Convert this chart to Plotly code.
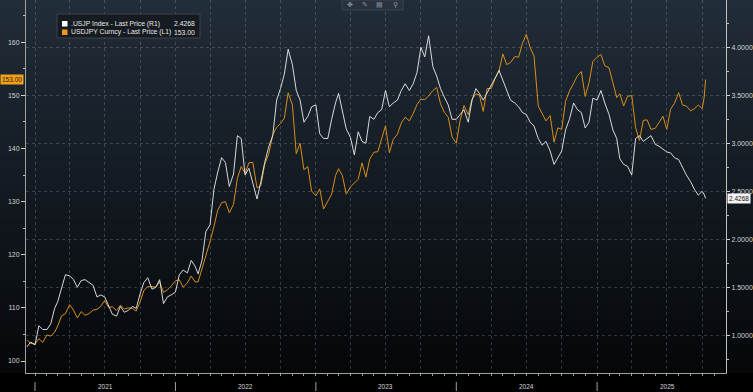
import plotly.graph_objects as go
import pandas as pd

# ---------------- data ----------------
years = [2021, 2022, 2023, 2024, 2025]
left_ticks = [100, 110, 120, 130, 140, 150, 160]
right_ticks = [1.0, 1.5, 2.0, 2.5, 3.0, 3.5, 4.0]

month_starts = pd.date_range("2021-01-01", "2025-09-01", freq="MS")
dates = ["2020-12-11", "2020-12-21"]
for m in month_starts:
    for d in (1, 11, 21):
        dates.append(f"{m.year}-{m.month:02d}-{d:02d}")
dates += ["2025-10-01", "2025-10-06", "2025-10-10"]

usdjpy_2020 = [104.0, 103.3]
usdjpy_2021 = [103.2, 104.2, 103.5, 104.9, 104.7, 105.4, 106.6, 108.5, 108.9,
               110.6, 109.6, 108.1, 109.3, 108.6, 108.9, 109.6, 109.7, 110.3,
               111.4, 110.1, 110.2, 109.5, 110.5, 109.8, 110.0, 109.9, 109.4,
               111.1, 113.3, 114.0, 114.0, 113.9, 114.9, 112.9, 113.4, 114.1]
usdjpy_2022 = [115.1, 115.3, 113.9, 114.7, 116.0, 114.9, 114.9, 117.3, 119.4,
               122.5, 125.3, 128.4, 129.8, 130.0, 127.9, 129.5, 134.4, 136.6,
               135.3, 137.3, 137.4, 132.6, 133.0, 137.0, 139.1, 142.6, 144.0,
               144.7, 145.7, 150.5, 148.2, 139.0, 141.0, 136.0, 136.6, 132.0]
usdjpy_2023 = [131.1, 132.4, 128.6, 130.1, 131.4, 134.9, 136.2, 134.9, 131.4,
               132.8, 133.6, 134.2, 137.3, 134.6, 138.0, 139.3, 139.4, 141.9,
               144.3, 139.2, 141.7, 142.7, 144.8, 145.9, 145.2, 146.6, 148.3,
               149.3, 149.2, 149.9, 150.9, 151.5, 148.4, 146.8, 145.9, 142.2]
usdjpy_2024 = [141.0, 145.3, 148.1, 146.4, 149.3, 150.3, 150.1, 147.0, 151.3,
               151.3, 153.2, 154.6, 157.8, 155.8, 156.2, 157.3, 157.2, 159.8,
               161.5, 159.0, 157.4, 148.0, 146.5, 145.2, 146.2, 141.2, 143.9,
               143.6, 148.9, 150.8, 152.3, 153.7, 154.5, 149.8, 152.4, 156.4]
usdjpy_2025 = [157.2, 157.7, 155.6, 155.2, 152.4, 149.6, 150.3, 148.0, 149.8,
               150.0, 144.0, 141.5, 145.3, 145.4, 143.6, 143.8, 144.9, 146.1,
               143.6, 147.4, 148.5, 150.5, 148.2, 148.0, 147.1, 147.5, 148.2,
               147.5, 149.5, 153.0]

usjp_2020 = [0.88, 0.93]
usjp_2021 = [0.90, 1.10, 1.06, 1.06, 1.12, 1.28, 1.35, 1.48, 1.63,
             1.62, 1.58, 1.50, 1.57, 1.58, 1.55, 1.52, 1.40, 1.42,
             1.40, 1.30, 1.22, 1.20, 1.30, 1.24, 1.26, 1.30, 1.28,
             1.43, 1.55, 1.60, 1.48, 1.50, 1.58, 1.33, 1.40, 1.42]
usjp_2022 = [1.45, 1.63, 1.68, 1.65, 1.78, 1.72, 1.64, 1.78, 2.08,
             2.15, 2.52, 2.70, 2.85, 2.80, 2.55, 2.68, 3.08, 3.05,
             2.67, 2.74, 2.60, 2.42, 2.60, 2.80, 2.97, 3.08, 3.45,
             3.57, 3.72, 3.98, 3.82, 3.55, 3.45, 3.22, 3.28, 3.38]
usjp_2023 = [3.40, 3.10, 3.05, 3.05, 3.25, 3.42, 3.52, 3.35, 3.15,
             3.06, 2.88, 3.12, 3.02, 3.00, 3.28, 3.25, 3.32, 3.35,
             3.55, 3.38, 3.42, 3.45, 3.55, 3.62, 3.55, 3.62, 3.74,
             4.00, 3.90, 4.12, 3.80, 3.70, 3.57, 3.48, 3.40, 3.25]
usjp_2024 = [3.25, 3.30, 3.35, 3.22, 3.45, 3.57, 3.52, 3.45, 3.52,
             3.60, 3.68, 3.76, 3.66, 3.55, 3.45, 3.42, 3.38, 3.32,
             3.30, 3.22, 3.18, 3.05, 2.98, 3.02, 2.92, 2.78, 2.85,
             2.92, 3.14, 3.25, 3.42, 3.35, 3.32, 3.16, 3.22, 3.47]
usjp_2025 = [3.45, 3.55, 3.42, 3.30, 3.14, 3.05, 2.84, 2.78, 2.76,
             2.67, 3.05, 3.08, 3.02, 3.05, 3.08, 2.99, 2.97, 2.94,
             2.91, 2.90, 2.85, 2.83, 2.75, 2.67, 2.60, 2.52, 2.46,
             2.50, 2.47, 2.4268]

usdjpy = usdjpy_2020 + usdjpy_2021 + usdjpy_2022 + usdjpy_2023 + usdjpy_2024 + usdjpy_2025
usjp = usjp_2020 + usjp_2021 + usjp_2022 + usjp_2023 + usjp_2024 + usjp_2025

# ---------------- layout geometry ----------------
W, H = 753, 392
ML, MR, MT, MB = 26, 27, 0, 19
PW, PH = W - ML - MR, H - MT - MB


def xp(px):
    return (px - ML) / PW


def yp(py):
    return 1 - (py - MT) / PH


FONT = "Liberation Sans, Arial, sans-serif"
TXT = "#d4d4d4"
AX = "#a0a0a0"
GRID = "rgba(185,195,205,0.24)"

fig = go.Figure()
fig.add_trace(go.Scatter(x=dates, y=usdjpy, yaxis="y", mode="lines",
                         line=dict(color="#d98d18", width=1.0),
                         hoverinfo="skip", name="USDJPY Curncy"))
fig.add_trace(go.Scatter(x=dates, y=usjp, yaxis="y2", mode="lines",
                         line=dict(color="#ececec", width=0.9),
                         hoverinfo="skip", name=".USJP Index"))

# background gradient bands
shapes = []
N = 80
top = (33, 45, 57)
mid = (19, 26, 33)
bot = (5, 7, 9)
for i in range(N):
    t = (i + 0.5) / N  # 0 bottom -> 1 top
    if t < 0.5:
        a, b, f = bot, mid, t / 0.5
    else:
        a, b, f = mid, top, (t - 0.5) / 0.5
    c = tuple(int(round(a[k] + (b[k] - a[k]) * f)) for k in range(3))
    shapes.append(dict(type="rect", xref="paper", yref="paper",
                       x0=xp(0) - 0.01, x1=xp(W) + 0.01,
                       y0=i / N, y1=(i + 1) / N + 0.002,
                       fillcolor=f"rgb{c}", line=dict(width=0), layer="below"))

# year separators
for yr in years:
    shapes.append(dict(type="line", xref="x", yref="paper",
                       x0=f"{yr}-01-01", x1=f"{yr}-01-01",
                       y0=yp(382), y1=yp(391),
                       line=dict(color=AX, width=1)))

# legend box
shapes.append(dict(type="rect", xref="paper", yref="paper",
                   x0=xp(57), x1=xp(200), y0=yp(38), y1=yp(14),
                   fillcolor="rgba(22,26,31,0.92)", line=dict(color="#3c434a", width=1)))
shapes.append(dict(type="rect", xref="paper", yref="paper",
                   x0=xp(62), x1=xp(67.5), y0=yp(26.5), y1=yp(21),
                   fillcolor="#ffffff", line=dict(width=0)))
shapes.append(dict(type="rect", xref="paper", yref="paper",
                   x0=xp(62), x1=xp(67.5), y0=yp(35), y1=yp(29.5),
                   fillcolor="#f39a12", line=dict(width=0)))

# toolbar
shapes.append(dict(type="rect", xref="paper", yref="paper",
                   x0=xp(342), x1=xp(403), y0=yp(10), y1=yp(0),
                   fillcolor="#28323c", line=dict(color="#3a4550", width=1)))

annotations = []
for yr in years:
    annotations.append(dict(x=f"{yr}-07-02", xref="x", y=yp(386.5), yref="paper",
                            text=str(yr), showarrow=False, xanchor="center", yanchor="middle",
                            font=dict(family=FONT, size=6.5, color=TXT)))

LEG = 6.8
annotations.append(dict(x=xp(69), y=yp(23.7), xref="paper", yref="paper",
                        text=".USJP Index - Last Price (R1)", showarrow=False,
                        xanchor="left", yanchor="middle",
                        font=dict(family=FONT, size=LEG, color="#e6e6e6")))
annotations.append(dict(x=xp(69), y=yp(32.3), xref="paper", yref="paper",
                        text="USDJPY Curncy - Last Price (L1)", showarrow=False,
                        xanchor="left", yanchor="middle",
                        font=dict(family=FONT, size=LEG, color="#e6e6e6")))
annotations.append(dict(x=xp(196.5), y=yp(23.7), xref="paper", yref="paper",
                        text=f"{usjp[-1]:.4f}", showarrow=False,
                        xanchor="right", yanchor="middle",
                        font=dict(family=FONT, size=LEG, color="#e6e6e6")))
annotations.append(dict(x=xp(196.5), y=yp(32.3), xref="paper", yref="paper",
                        text=f"{usdjpy[-1]:.2f}", showarrow=False,
                        xanchor="right", yanchor="middle",
                        font=dict(family=FONT, size=LEG, color="#e6e6e6")))

for px, glyph in [(350, "✥"), (365, "✎"), (380, "▤"), (395, "⚲")]:
    annotations.append(dict(x=xp(px), y=yp(5), xref="paper", yref="paper",
                            text=glyph, showarrow=False, xanchor="center", yanchor="middle",
                            font=dict(family="DejaVu Sans", size=7, color="#8e98a2")))

# last value tags
annotations.append(dict(x=0, xref="paper", y=usdjpy[-1], yref="y",
                        text=f"{usdjpy[-1]:.2f}", showarrow=False,
                        xanchor="right", yanchor="middle", xshift=-2,
                        bgcolor="#f2a11c", borderpad=1,
                        font=dict(family=FONT, size=6.5, color="#2a1800")))
annotations.append(dict(x=1, xref="paper", y=usjp[-1], yref="y2",
                        text=f"{usjp[-1]:.4f}", showarrow=False,
                        xanchor="left", yanchor="middle", xshift=1,
                        bgcolor="#f4f4f4", borderpad=1,
                        font=dict(family=FONT, size=6.5, color="#111111")))

quarters = [d.strftime("%Y-%m-%d") for d in pd.date_range("2021-01-01", "2025-10-01", freq="QS")]
months_all = [d.strftime("%Y-%m-%d") for d in pd.date_range("2021-01-01", "2025-11-01", freq="MS")]

fig.update_layout(
    width=W, height=H,
    margin=dict(l=ML, r=MR, t=MT, b=MB, pad=0),
    paper_bgcolor="#000000",
    plot_bgcolor="rgba(0,0,0,0)",
    showlegend=False,
    shapes=shapes,
    annotations=annotations,
    xaxis=dict(
        type="date",
        range=["2020-12-08 14:00", "2025-12-02"],
        tickmode="array", tickvals=quarters, showticklabels=False, ticks="",
        showgrid=True, gridcolor=GRID, griddash="dot", gridwidth=1,
        showline=True, linecolor=AX, linewidth=1, zeroline=False,
        minor=dict(ticks="outside", ticklen=2, tickcolor=AX, tickwidth=1,
                   tickmode="array", tickvals=months_all, showgrid=False),
    ),
    yaxis=dict(
        range=[97.74, 167.96], side="left",
        tickmode="array", tickvals=left_ticks,
        ticks="outside", ticklen=4, tickcolor="#d0d0d0", tickwidth=1,
        tickfont=dict(family=FONT, size=7, color=TXT),
        showgrid=False, zeroline=False,
        showline=True, linecolor=AX, linewidth=1,
        minor=dict(ticks="outside", ticklen=2, tickcolor="#bdbdbd",
                   tickmode="linear", tick0=95, dtick=10, showgrid=False),
    ),
    yaxis2=dict(
        range=[0.607, 4.493], side="right", overlaying="y", anchor="x",
        tickmode="array", tickvals=right_ticks,
        ticktext=[f"{v:.4f}" for v in right_ticks],
        ticks="outside", ticklen=3, tickcolor="#d0d0d0", tickwidth=1,
        tickfont=dict(family=FONT, size=7, color=TXT),
        showgrid=True, gridcolor=GRID, griddash="dot", gridwidth=1,
        zeroline=False, showline=True, linecolor="#c0c0c0", linewidth=1,
        minor=dict(ticks="outside", ticklen=2, tickcolor="#bdbdbd",
                   tickmode="linear", tick0=0.75, dtick=0.5, showgrid=False),
    ),
)

fig.write_html("out.html", config={"displayModeBar": False},
               post_script="document.body.style.margin='0';document.body.style.overflow='hidden';document.body.style.background='#000';")
